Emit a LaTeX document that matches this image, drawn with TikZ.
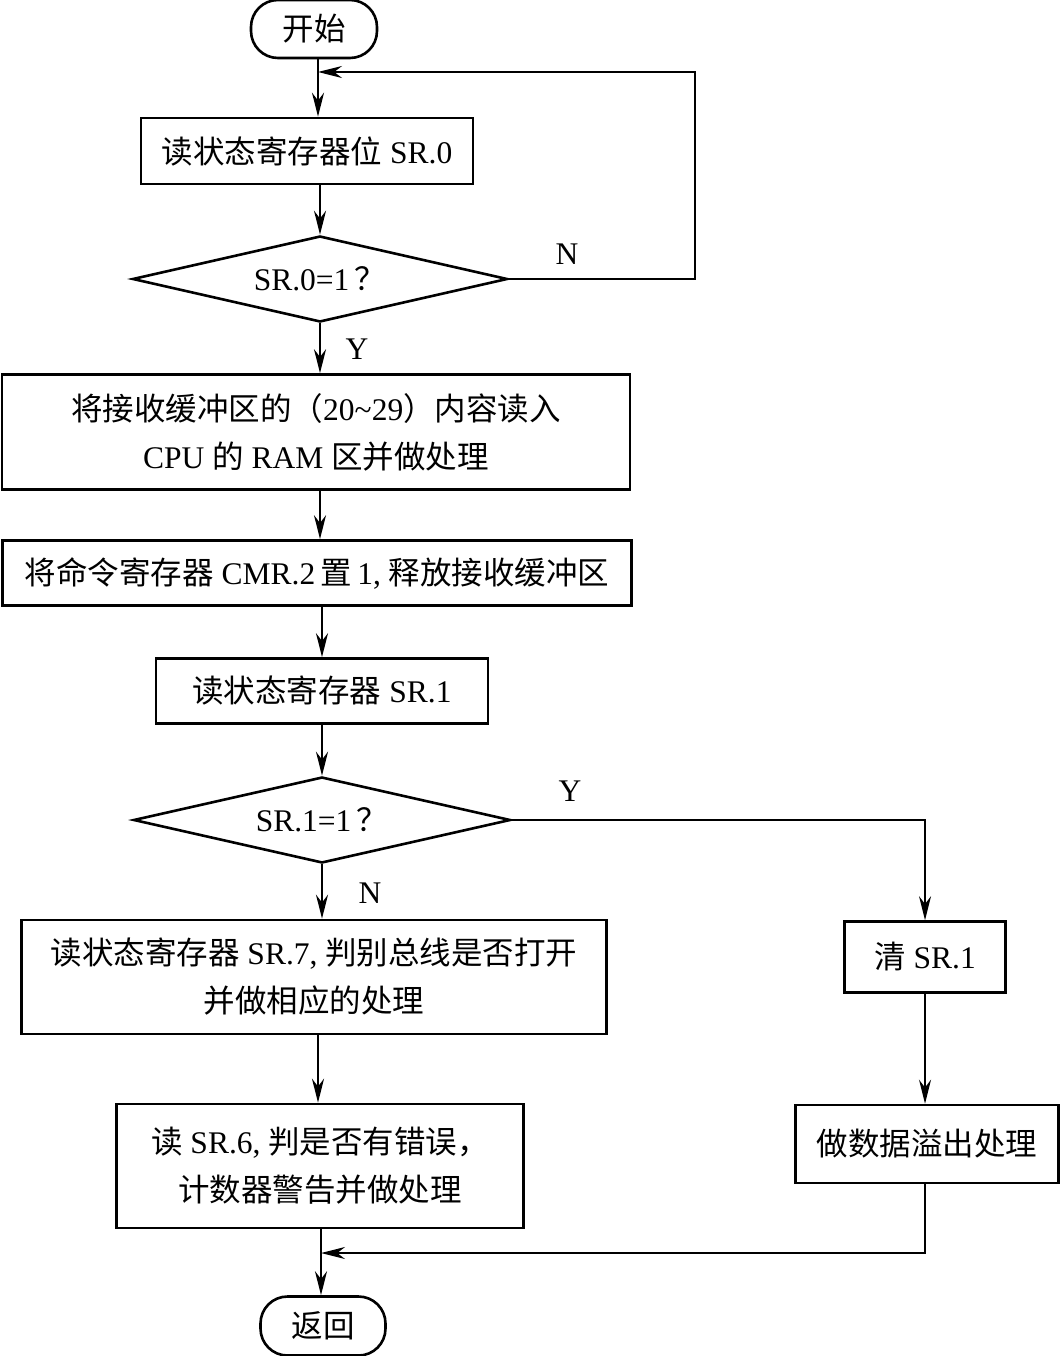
\documentclass[tikz,border=0pt]{standalone}
\usepackage{fontspec}
\setmainfont{Liberation Serif}
\newfontfamily\cjk{Noto Sans CJK SC}
\newcommand\zh[1]{{\cjk #1}}
\usetikzlibrary{shapes.geometric,arrows.meta}
\begin{document}
\begin{tikzpicture}[x=1pt,y=-1pt,
  every node/.style={font=\fontsize{31.5pt}{48pt}\selectfont},
  proc/.style={draw, line width=2.6pt, inner sep=0pt, align=center},
  term/.style={draw, line width=2.6pt, rounded corners=27pt, inner sep=0pt},
  dec/.style={draw, diamond, aspect=4.36, line width=2.6pt, inner sep=0pt},
  flow/.style={line width=1.8pt, -{Stealth[length=24pt,width=12pt]}},
  lab/.style={inner sep=0pt}
]
\useasboundingbox (0,0) rectangle (1061,1356);
\node[term, minimum width=126pt, minimum height=58pt] (start) at (314,29) {\zh{开始}};
\node[proc, minimum width=332pt, minimum height=66pt] (b1) at (307,151) {\zh{读状态寄存器位} SR.0};
\node[dec, minimum width=375pt, minimum height=86pt] (d1) at (320,279) {SR.0=1\,\zh{？}};
\node[proc, minimum width=628pt, minimum height=115pt] (b2) at (316,432) {\zh{将接收缓冲区的（}20\textasciitilde29\zh{）内容读入}\\CPU \zh{的} RAM \zh{区并做处理}};
\node[proc, minimum width=629pt, minimum height=65pt] (b3) at (317,573) {\zh{将命令寄存器} CMR.2\,\zh{置}\,1, \zh{释放接收缓冲区}};
\node[proc, minimum width=332pt, minimum height=65pt] (b4) at (322,691) {\zh{读状态寄存器} SR.1};
\node[dec, minimum width=377pt, minimum height=86pt] (d2) at (322,820) {SR.1=1\,\zh{？}};
\node[proc, minimum width=585pt, minimum height=114pt] (b5) at (314,977) {\zh{读状态寄存器} SR.7, \zh{判别总线是否打开}\\\zh{并做相应的处理}};
\node[proc, minimum width=407pt, minimum height=124pt] (b8) at (320,1166) {\zh{读} SR.6, \zh{判是否有错误，}\\\zh{计数器警告并做处理}};
\node[proc, minimum width=161pt, minimum height=71pt] (b6) at (925,957) {\zh{清} SR.1};
\node[proc, minimum width=263pt, minimum height=78pt] (b7) at (927,1144) {\zh{做数据溢出处理}};
\node[term, minimum width=125pt, minimum height=59pt] (end) at (323,1326) {\zh{返回}};
\node[lab] (lN1) at (567,254) {N};
\node[lab] (lY1) at (357,349) {Y};
\node[lab] (lY2) at (570,791) {Y};
\node[lab] (lN2) at (370,893) {N};
\coordinate (j1) at (318,72);
\coordinate (j2) at (321,1253);
\draw[flow] (j1 |- start.south) -- (j1 |- b1.north);
\draw[flow] (d1.north |- b1.south) -- (d1.north);
\draw[flow] (d1.south) -- (d1.south |- b2.north);
\draw[flow] (b2.south -| d1.south) -- (d1.south |- b3.north);
\draw[flow] (b3.south -| b4.north) -- (b4.north);
\draw[flow] (b4.south) -- (d2.north);
\draw[flow] (d2.south) -- (d2.south |- b5.north);
\draw[flow] (j1 |- b5.south) -- (j1 |- b8.north);
\draw[flow] (j2 |- b8.south) -- (j2 |- end.north);
\draw[flow] (d1.east) -- (695,279) |- (j1);
\draw[flow] (d2.east) -- (b6.north |- d2.east) -- (b6.north);
\draw[flow] (b6.south) -- (b6.south |- b7.north);
\draw[flow] (b6.south |- b7.south) |- (j2);
\end{tikzpicture}
\end{document}
